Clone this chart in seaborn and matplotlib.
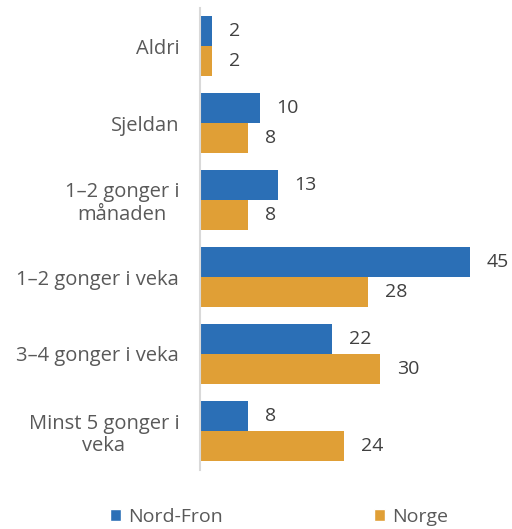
import matplotlib
matplotlib.use("Agg")
import matplotlib.pyplot as plt
import seaborn as sns
import pandas as pd
from matplotlib.patches import Patch

categories = ["Aldri", "Sjeldan", "1–2 gonger i\nmånaden", "1–2 gonger i veka",
              "3–4 gonger i veka", "Minst 5 gonger i\nveka"]
series_names = ["Nord-Fron", "Norge"]
nord_fron = [2, 10, 13, 45, 22, 8]
norge = [2, 8, 8, 28, 30, 24]
colors = ["#2B6FB6", "#E09F36"]

df = pd.DataFrame({
    "cat": categories * 2,
    "val": nord_fron + norge,
    "series": [series_names[0]] * len(categories) + [series_names[1]] * len(categories),
})

sns.set_theme(style="white")
plt.rcParams["font.family"] = ["Open Sans", "DejaVu Sans"]

fig = plt.figure(figsize=(5.12, 5.29), dpi=100)
ax = fig.add_axes([200 / 512, 1 - 469.5 / 529, 312 / 512, 462 / 529])

sns.barplot(data=df, y="cat", x="val", hue="series", orient="h",
            palette=colors, width=0.78, ax=ax, legend=False, saturation=1,
            linewidth=0)

for cont in ax.containers:
    ax.bar_label(cont, padding=12, fontsize=14, color="#404040")

ax.set_xlim(0, 52)
ax.set_ylim(5.5, -0.5)
ax.set_xlabel("")
ax.set_ylabel("")
ax.set_xticks([])
for s in ["top", "right", "bottom"]:
    ax.spines[s].set_visible(False)
ax.spines["left"].set_color("#D9D9D9")
ax.spines["left"].set_linewidth(1.5)
ax.tick_params(axis="y", length=0, pad=15, labelsize=14.5, labelcolor="#595959")
for lbl in ax.get_yticklabels():
    lbl.set_linespacing(1.15)
    lbl.set_multialignment("center")

handles = [Patch(facecolor=c, label=n) for c, n in zip(colors, series_names)]
fig.legend(handles=handles, loc="center", bbox_to_anchor=(0.545, 12 / 529), ncol=2,
           frameon=False, fontsize=14, labelcolor="#595959", handlelength=0.55,
           handleheight=0.55, handletextpad=0.35, columnspacing=7.8)

fig.savefig("out.png", dpi=100)
